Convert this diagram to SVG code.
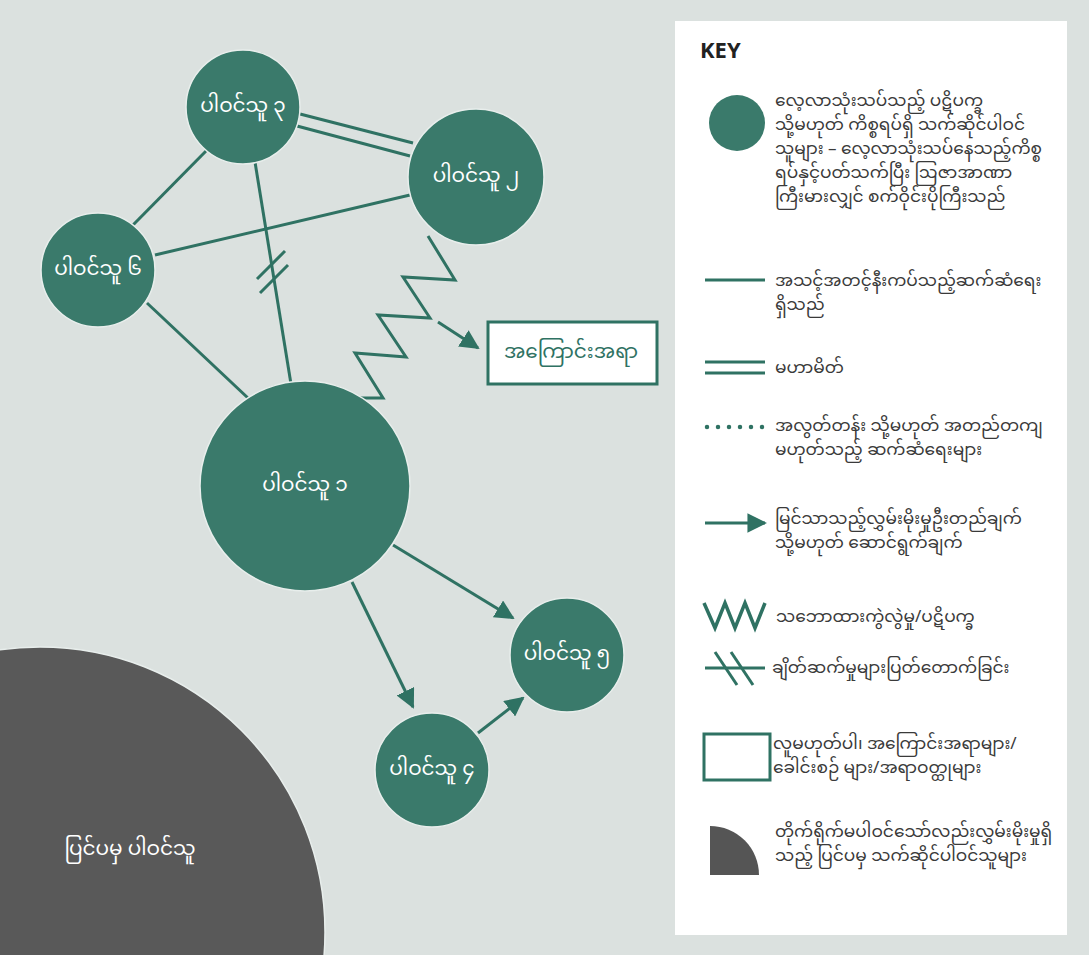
<svg xmlns="http://www.w3.org/2000/svg" width="1089" height="955" viewBox="0 0 1089 955">
<defs>
<style>
.bg{fill:#dbe1df}
.node{fill:#3a7a6b;stroke:#e8eeec;stroke-width:1.5}
.lbl{font-family:"Noto Sans Myanmar","Padauk","Myanmar Text","Noto Sans",sans-serif;fill:#ffffff;font-size:20px;text-anchor:middle;dominant-baseline:central}
.ln{stroke:#2f7263;stroke-width:3;fill:none}
.kt{font-family:"Noto Sans Myanmar","Padauk","Myanmar Text","Noto Sans",sans-serif;fill:#3a3a3a;font-size:17px}
.arrowhead{fill:#2f7263}
</style>
<marker id="ah" viewBox="0 0 10 10" refX="9" refY="5" markerWidth="6.5" markerHeight="6.5" markerUnits="strokeWidth" orient="auto">
<path d="M0,0 L10,5 L0,10 Z" class="arrowhead"/>
</marker>
</defs>
<rect class="bg" x="0" y="0" width="1089" height="955"/>

<g id="outside">
<circle cx="40" cy="932" r="285" fill="#595959" stroke="#e8eeec" stroke-width="1.5"/>
<text class="lbl" x="130" y="850" font-size="26">ပြင်ပမှ ပါဝင်သူ</text>
</g>

<g id="connectors">
<line class="ln" x1="207" y1="150" x2="133" y2="225"/>
<line class="ln" x1="300" y1="114" x2="413" y2="143"/>
<line class="ln" x1="297" y1="126" x2="410" y2="156"/>
<line class="ln" x1="155" y1="255" x2="410" y2="195"/>
<line class="ln" x1="255" y1="162" x2="291" y2="384"/>
<line class="ln" x1="257" y1="279" x2="285" y2="251"/>
<line class="ln" x1="260" y1="293" x2="288" y2="265"/>
<line class="ln" x1="147" y1="303" x2="248" y2="398"/>
<polyline class="ln" points="428,236 455,280 403,277 430,318 378,315 406,357 355,353 383,398 360,398"/>
<line class="ln" x1="438" y1="322" x2="478" y2="348" marker-end="url(#ah)"/>
<line class="ln" x1="393" y1="545" x2="513" y2="618" marker-end="url(#ah)"/>
<line class="ln" x1="352" y1="582" x2="413" y2="707" marker-end="url(#ah)"/>
<line class="ln" x1="478" y1="733" x2="523" y2="698" marker-end="url(#ah)"/>
</g>

<g id="node3"><circle class="node" cx="243" cy="107" r="57"/><text class="lbl" x="243" y="107">ပါဝင်သူ ၃</text></g>
<g id="node2"><circle class="node" cx="476" cy="177" r="68"/><text class="lbl" x="476" y="177">ပါဝင်သူ ၂</text></g>
<g id="node6"><circle class="node" cx="98" cy="270" r="57"/><text class="lbl" x="98" y="270">ပါဝင်သူ ၆</text></g>
<g id="node1"><circle class="node" cx="305" cy="486" r="105"/><text class="lbl" x="305" y="486">ပါဝင်သူ ၁</text></g>
<g id="node5"><circle class="node" cx="567" cy="655" r="57"/><text class="lbl" x="567" y="655">ပါဝင်သူ ၅</text></g>
<g id="node4"><circle class="node" cx="432" cy="770" r="57"/><text class="lbl" x="432" y="770">ပါဝင်သူ ၄</text></g>
<g id="topic"><rect x="488" y="322" width="169" height="62" fill="#ffffff" stroke="#2f7263" stroke-width="3"/><text class="lbl" x="571" y="353" style="fill:#2f7263" font-size="23">အကြောင်းအရာ</text></g>

<g id="key">
<rect x="675" y="21" width="392" height="914" fill="#ffffff"/>
<text x="700" y="58" font-family="'Open Sans','Liberation Sans',sans-serif" font-weight="bold" font-size="22" fill="#222">KEY</text>
<circle cx="737" cy="123" r="28" fill="#3a7a6b"/>
<text class="kt" x="775" y="106">လေ့လာသုံးသပ်သည့် ပဋိပက္ခ</text>
<text class="kt" x="775" y="130"> သို့မဟုတ် ကိစ္စရပ်ရှိ သက်ဆိုင်ပါဝင်</text>
<text class="kt" x="775" y="154">သူများ – လေ့လာသုံးသပ်နေသည့်ကိစ္စ</text>
<text class="kt" x="775" y="178">ရပ်နှင့်ပတ်သက်ပြီး ဩဇာအာဏာ</text>
<text class="kt" x="775" y="202">ကြီးမားလျှင် စက်ဝိုင်းပိုကြီးသည်</text>

<line class="ln" x1="705" y1="280" x2="765" y2="280"/>
<text class="kt" x="775" y="286">အသင့်အတင့်နီးကပ်သည့်ဆက်ဆံရေး</text>
<text class="kt" x="775" y="310">ရှိသည်</text>

<line class="ln" x1="705" y1="362" x2="765" y2="362"/>
<line class="ln" x1="705" y1="373" x2="765" y2="373"/>
<text class="kt" x="775" y="373">မဟာမိတ်</text>

<line x1="707" y1="427" x2="765" y2="427" stroke="#2f7263" stroke-width="4.5" stroke-linecap="round" stroke-dasharray="0 11"/>
<text class="kt" x="775" y="431">အလွတ်တန်း သို့မဟုတ် အတည်တကျ</text>
<text class="kt" x="775" y="455">မဟုတ်သည့် ဆက်ဆံရေးများ</text>

<line class="ln" x1="705" y1="523" x2="765" y2="523" marker-end="url(#ah)"/>
<text class="kt" x="775" y="524">မြင်သာသည့်လွှမ်းမိုးမှုဦးတည်ချက်</text>
<text class="kt" x="775" y="548">သို့မဟုတ် ဆောင်ရွက်ချက်</text>

<polyline class="ln" points="704,603 715,628 725,603 735,628 745,603 755,628 765,603" style="stroke-width:3.5"/>
<text class="kt" x="776" y="622">သဘောထားကွဲလွဲမှု/ပဋိပက္ခ</text>

<line class="ln" x1="705" y1="668" x2="765" y2="668"/>
<line class="ln" x1="715" y1="652" x2="737" y2="685"/>
<line class="ln" x1="731" y1="652" x2="753" y2="685"/>
<text class="kt" x="772" y="673">ချိတ်ဆက်မှုများပြတ်တောက်ခြင်း</text>

<rect x="704" y="734" width="66" height="46" fill="#ffffff" stroke="#2f7263" stroke-width="3"/>
<text class="kt" x="773" y="749">လူမဟုတ်ပါ၊ အကြောင်းအရာများ/</text>
<text class="kt" x="773" y="773">ခေါင်းစဉ် များ/အရာဝတ္ထုများ</text>

<path d="M710,875 L710,826 A49,49 0 0 1 759,875 Z" fill="#555555"/>
<text class="kt" x="775" y="837">တိုက်ရိုက်မပါဝင်သော်လည်းလွှမ်းမိုးမှုရှိ</text>
<text class="kt" x="775" y="861">သည့် ပြင်ပမှ သက်ဆိုင်ပါဝင်သူများ</text>
</g>
</svg>
